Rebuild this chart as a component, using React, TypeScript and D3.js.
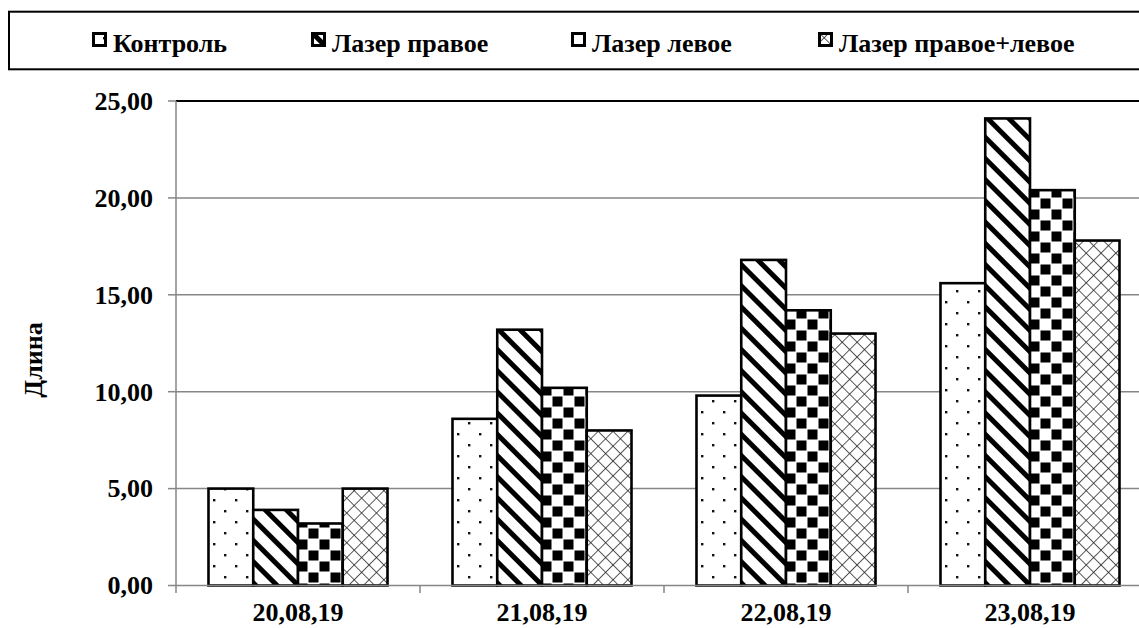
import React from 'react';
import * as d3 from 'd3';

const categories = ['20,08,19', '21,08,19', '22,08,19', '23,08,19'];
const seriesNames = ['Контроль', 'Лазер правое', 'Лазер левое', 'Лазер правое+левое'];
const control = [5.0, 8.6, 9.8, 15.6];
const laserRight = [3.9, 13.2, 16.8, 24.1];
const laserLeft = [3.2, 10.2, 14.2, 20.4];
const laserBoth = [5.0, 8.0, 13.0, 17.8];
const yTicks = [0, 5, 10, 15, 20, 25];
const yTitle = 'Длина';

const seriesValues = [control, laserRight, laserLeft, laserBoth];
const patternIds = ['pDots', 'pStripes', 'pChecker', 'pCross'];
const legendX = [92, 311, 571, 818];

const W = 1139;
const H = 628;
const FS = 26;
const GRID = '#868686';

const fmt = (v: number) => v.toFixed(2).replace('.', ',');

export default function App() {
  const plotLeft = 176;
  const plotRight = 1152;
  const plotTop = 101;
  const plotBottom = 585.5;

  const x0 = d3.scaleBand<string>().domain(categories).range([plotLeft, plotRight]).padding(0);
  const x1 = d3
    .scaleBand<string>()
    .domain(seriesNames)
    .range([0, x0.bandwidth()])
    .paddingInner(0)
    .paddingOuter(0.726);
  const y = d3.scaleLinear().domain([0, 25]).range([plotBottom, plotTop]);

  return (
    <svg
      width={W}
      height={H}
      fontFamily="Liberation Serif"
      fontWeight="bold"
      fontSize={FS}
      style={{ position: 'fixed', left: 0, top: 0, background: '#fff', fontFamily: "'Liberation Serif'" }}
    >
      <defs>
        <pattern id="pDots" width={22} height={22} patternUnits="userSpaceOnUse">
          <rect width={22} height={22} fill="#fff" />
          <rect x={4} y={4} width={2.4} height={2.4} fill="#111" />
          <rect x={15} y={15} width={2.4} height={2.4} fill="#111" />
        </pattern>
        <pattern
          id="pStripes"
          width={15}
          height={15}
          patternUnits="userSpaceOnUse"
          patternTransform="rotate(-45)"
        >
          <rect width={15} height={15} fill="#fff" />
          <rect x={0} y={0} width={5} height={15} fill="#000" />
        </pattern>
        <pattern id="pChecker" width={22} height={22} patternUnits="userSpaceOnUse">
          <rect width={22} height={22} fill="#fff" />
          <rect x={0.5} y={0.5} width={10} height={10} fill="#000" />
          <rect x={11.5} y={11.5} width={10} height={10} fill="#000" />
        </pattern>
        <pattern
          id="pCross"
          width={10.5}
          height={10.5}
          patternUnits="userSpaceOnUse"
          patternTransform="rotate(45)"
        >
          <rect width={10.5} height={10.5} fill="#fff" />
          <line x1={0} y1={0} x2={10.5} y2={0} stroke="#222" strokeWidth={1.5} />
          <line x1={0} y1={0} x2={0} y2={10.5} stroke="#222" strokeWidth={1.5} />
        </pattern>
      </defs>

      {/* Legend box */}
      <rect x={9} y={11.7} width={1200} height={57.6} fill="#fff" stroke="#000" strokeWidth={2} />
      {seriesNames.map((name, i) => (
        <g key={name}>
          <rect
            x={legendX[i] + 1.5}
            y={33.5}
            width={12}
            height={12}
            fill={`url(#${patternIds[i]})`}
            stroke="#000"
            strokeWidth={3}
          />
          <text x={legendX[i] + 21} y={52} fontFamily="Liberation Serif" fill="#000">
            {name}
          </text>
        </g>
      ))}

      {/* Gridlines */}
      {yTicks.slice(1, -1).map((t) => (
        <line key={t} x1={plotLeft} x2={W} y1={y(t)} y2={y(t)} stroke={GRID} strokeWidth={1.5} />
      ))}
      <line x1={plotLeft} x2={W} y1={y(25)} y2={y(25)} stroke="#000" strokeWidth={2} />

      {/* Bars */}
      {categories.map((c, ci) => (
        <g key={c} transform={`translate(${x0(c)},0)`}>
          {seriesNames.map((s, si) => {
            const v = seriesValues[si][ci];
            return (
              <rect
                key={s}
                x={x1(s)}
                y={y(v)}
                width={x1.bandwidth()}
                height={y(0) - y(v)}
                fill={`url(#${patternIds[si]})`}
                stroke="#000"
                strokeWidth={2.6}
              />
            );
          })}
        </g>
      ))}

      {/* X axis */}
      <line x1={plotLeft} x2={W} y1={plotBottom} y2={plotBottom} stroke={GRID} strokeWidth={1.5} />
      {categories.map((c) => (
        <line
          key={'t' + c}
          x1={(x0(c) as number) + x0.bandwidth()}
          x2={(x0(c) as number) + x0.bandwidth()}
          y1={plotBottom}
          y2={plotBottom + 7.5}
          stroke={GRID}
          strokeWidth={1.5}
        />
      ))}
      {categories.map((c) => (
        <text
          key={'l' + c}
          x={(x0(c) as number) + x0.bandwidth() / 2}
          y={621}
          textAnchor="middle"
          fontFamily="Liberation Serif"
          fill="#000"
        >
          {c}
        </text>
      ))}

      {/* Y axis */}
      <line x1={plotLeft} x2={plotLeft} y1={plotTop} y2={plotBottom + 7.5} stroke={GRID} strokeWidth={1.5} />
      {yTicks.map((t) => (
        <g key={'y' + t}>
          <line x1={plotLeft - 8} x2={plotLeft} y1={y(t)} y2={y(t)} stroke={GRID} strokeWidth={1.5} />
          <text x={153} y={y(t)} dy="0.34em" textAnchor="end" fontFamily="Liberation Serif" fill="#000">
            {fmt(t)}
          </text>
        </g>
      ))}
      <text
        transform={`translate(42,360) rotate(-90)`}
        textAnchor="middle"
        fontFamily="Liberation Serif"
        fill="#000"
      >
        {yTitle}
      </text>
    </svg>
  );
}
